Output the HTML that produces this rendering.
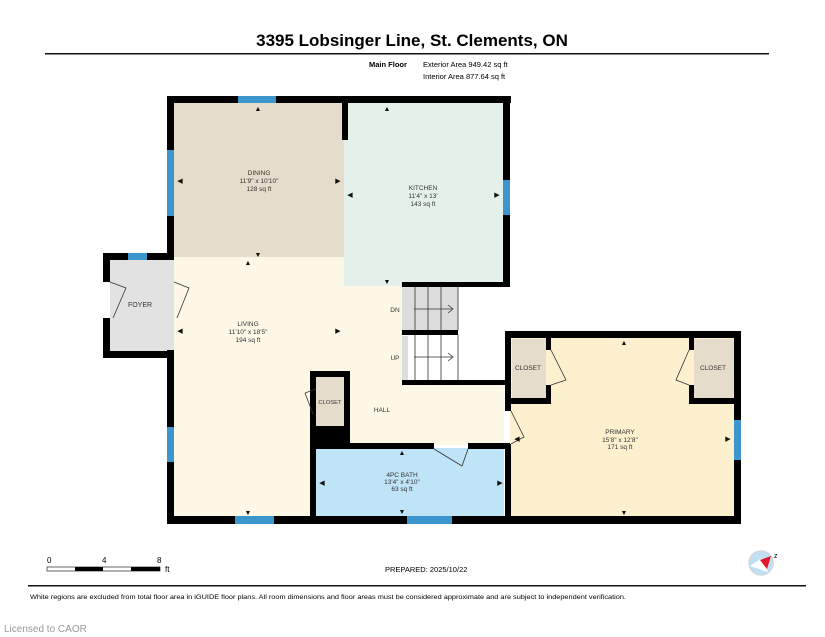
<!DOCTYPE html>
<html><head><meta charset="utf-8"><style>
html,body{margin:0;padding:0;background:#fff;}
svg{display:block;font-family:"Liberation Sans",Arial,sans-serif;}
</style></head><body>
<svg width="825" height="637" viewBox="0 0 825 637" xmlns="http://www.w3.org/2000/svg">
<rect width="825" height="637" fill="#fff"/>
<text x="412" y="46" font-size="17" font-weight="bold" text-anchor="middle">3395 Lobsinger Line, St. Clements, ON</text>
<rect x="45" y="53" width="724" height="1.5" fill="#111"/>
<text x="369" y="67" font-size="7.5" font-weight="bold">Main Floor</text>
<text x="423" y="67" font-size="7.5">Exterior Area 949.42 sq ft</text>
<text x="423" y="79" font-size="7.5">Interior Area 877.64 sq ft</text>

<rect x="174" y="103" width="170" height="154" fill="#e6dccb"/>
<rect x="344" y="103" width="160" height="183" fill="#e4f1ea"/>
<path d="M174 257 H344 V286 H402 V385 H504 V445 H316 V516 H174 Z" fill="#fdf8e6"/>
<rect x="110" y="259" width="64" height="92" fill="#e2e2e2"/>
<rect x="402" y="286" width="56" height="46" fill="#dcdcdc"/>
<rect x="402" y="336" width="56" height="46" fill="#fff"/>
<rect x="402" y="336" width="6" height="46" fill="#ddd"/>
<rect x="510" y="338" width="224" height="179" fill="#fdf0cf"/>
<rect x="316" y="448" width="188" height="69" fill="#bfe3f7"/>
<rect x="316" y="377" width="28" height="49" fill="#e6dccb"/>
<rect x="512" y="339" width="34" height="60" fill="#e6dccb"/>
<rect x="694" y="339" width="40" height="60" fill="#e6dccb"/>

<g fill="#000">
<rect x="167" y="96" width="344" height="7"/>
<rect x="167" y="96" width="7" height="164"/>
<rect x="167" y="350" width="7" height="174"/>
<rect x="503" y="96" width="7" height="190"/>
<rect x="402" y="282" width="108" height="5"/>
<rect x="342" y="103" width="6" height="37"/>
<rect x="402" y="330" width="56" height="5"/>
<rect x="402" y="380" width="108" height="5"/>
<rect x="103" y="253" width="71" height="7"/>
<rect x="103" y="253" width="7" height="29"/>
<rect x="103" y="318" width="7" height="40"/>
<rect x="103" y="351" width="71" height="7"/>
<rect x="167" y="516" width="574" height="8"/>
<rect x="310" y="371" width="40" height="6"/>
<rect x="310" y="371" width="6" height="150"/>
<rect x="344" y="371" width="6" height="74"/>
<rect x="310" y="426" width="40" height="19"/>
<rect x="310" y="443" width="124" height="6"/>
<rect x="468" y="443" width="42" height="6"/>
<rect x="505" y="331" width="236" height="7"/>
<rect x="734" y="331" width="7" height="193"/>
<rect x="505" y="331" width="6" height="80"/>
<rect x="505" y="444" width="6" height="80"/>
<rect x="511" y="398" width="38" height="6"/>
<rect x="546" y="338" width="5" height="12"/>
<rect x="546" y="385" width="5" height="19"/>
<rect x="689" y="398" width="45" height="6"/>
<rect x="689" y="338" width="5" height="12"/>
<rect x="689" y="385" width="5" height="19"/>
</g>
<g stroke="#333" stroke-width="0.8" fill="none">
<line x1="415" y1="287" x2="415" y2="330"/><line x1="428" y1="287" x2="428" y2="330"/><line x1="441" y1="287" x2="441" y2="330"/><line x1="458" y1="287" x2="458" y2="330"/>
<line x1="415" y1="335" x2="415" y2="380"/><line x1="428" y1="335" x2="428" y2="380"/><line x1="441" y1="335" x2="441" y2="380"/><line x1="458" y1="335" x2="458" y2="380"/>
<path d="M414 309 H452 M448 305 L453 309 L448 313"/>
<path d="M414 357 H452 M448 353 L453 357 L448 361"/>
<path d="M110 282 L126 288 L113 318"/><path d="M174 282 L189 288 L177 318"/>
<path d="M305 393 L316 389 M305 393 L313 414"/>
<path d="M551 350 L566 380 L551 385"/><path d="M689 350 L676 380 L689 385"/>
<path d="M511 411 L524 437 L511 444"/>
<path d="M434 449 L462 466 L468 449"/>
</g>
<g fill="#3c95cc">
<rect x="238" y="96" width="38" height="7"/>
<rect x="167" y="150" width="7" height="66"/>
<rect x="503" y="180" width="7" height="35"/>
<rect x="167" y="427" width="7" height="35"/>
<rect x="235" y="516" width="39" height="8"/>
<rect x="407" y="516" width="45" height="8"/>
<rect x="734" y="420" width="7" height="40"/>
<rect x="128" y="253" width="19" height="7"/>
</g>
<g font-size="6.5" text-anchor="middle" fill="#333">
<text x="259" y="175">DINING</text><text x="259" y="183">11'9" x 10'10"</text><text x="259" y="191">128 sq ft</text>
<text x="423" y="190">KITCHEN</text><text x="423" y="198">11'4" x 13'</text><text x="423" y="206">143 sq ft</text>
<text x="248" y="326">LIVING</text><text x="248" y="334">11'10" x 18'5"</text><text x="248" y="342">194 sq ft</text>
<text x="140" y="307" font-size="7">FOYER</text>
<text x="395" y="312">DN</text><text x="395" y="360">UP</text>
<text x="382" y="412">HALL</text>
<text x="330" y="404" font-size="5.8">CLOSET</text>
<text x="528" y="370">CLOSET</text><text x="713" y="370">CLOSET</text>
<text x="620" y="434">PRIMARY</text><text x="620" y="442">15'8" x 12'8"</text><text x="620" y="449">171 sq ft</text>
<text x="402" y="477">4PC BATH</text><text x="402" y="484">13'4" x 4'10"</text><text x="402" y="491">63 sq ft</text>
</g>
<g fill="#111" font-size="7" text-anchor="middle">
<text x="258" y="111">▲</text><text x="258" y="257">▼</text><text x="248" y="265">▲</text>
<text x="180" y="183">◀</text><text x="338" y="183">▶</text>
<text x="387" y="111">▲</text><text x="387" y="284">▼</text><text x="350" y="197">◀</text><text x="497" y="197">▶</text>
<text x="180" y="333">◀</text><text x="338" y="333">▶</text>
<text x="624" y="345">▲</text><text x="624" y="515">▼</text><text x="517" y="441">◀</text><text x="728" y="441">▶</text>
<text x="402" y="455">▲</text><text x="402" y="514">▼</text><text x="322" y="485">◀</text><text x="500" y="485">▶</text>
<text x="248" y="515">▼</text>
</g>
<g font-size="8">
<text x="47" y="563">0</text><text x="102" y="563">4</text><text x="157" y="563">8</text>
<text x="165" y="572">ft</text>
</g>
<rect x="47" y="567" width="113" height="4" fill="#fff" stroke="#000" stroke-width="0.6"/>
<rect x="75" y="567" width="28" height="4" fill="#000"/>
<rect x="131" y="567" width="29" height="4" fill="#000"/>
<text x="385" y="572" font-size="7.5">PREPARED: 2025/10/22</text>
<circle cx="761" cy="563" r="12" fill="#bfe0f2" stroke="#cfd8e0" stroke-width="1.5"/>
<path d="M750 566 L762 558 L768 572 Z" fill="#fff"/>
<path d="M760 560 L771 556 L767 569 Z" fill="#e0182a"/>
<text x="774" y="558" font-size="7">z</text>
<rect x="28" y="585" width="778" height="1.5" fill="#111"/>
<text x="30" y="599" font-size="6.5" textLength="596" lengthAdjust="spacingAndGlyphs">White regions are excluded from total floor area in iGUIDE floor plans. All room dimensions and floor areas must be considered approximate and are subject to independent verification.</text>
<text x="4" y="632" font-size="10" fill="#999">Licensed to CAOR</text>
</svg>
</body></html>
